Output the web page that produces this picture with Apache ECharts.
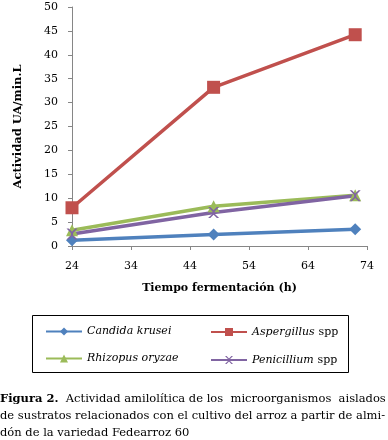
<!DOCTYPE html>
<html>
<head>
<meta charset="utf-8">
<script src="https://cdn.jsdelivr.net/npm/echarts@6/dist/echarts.min.js"></script>
<style>
  html, body { margin: 0; padding: 0; background: #fff; }
  #chart { width: 388px; height: 440px; }
</style>
</head>
<body>
<div id="chart"></div>
<script>
// horas de fermentación
const hours = [24, 48, 72]
const seriesNames = ['Candida krusei', 'Aspergillus spp', 'Rhizopus oryzae', 'Penicillium spp']
const candida = [1.2, 2.4, 3.5]
const aspergillus = [8.0, 33.2, 44.2]
const rhizopus = [3.3, 8.3, 10.6]
const penicillium = [2.5, 7.0, 10.5]
const colorList = ['#4F81BD', '#C0504D', '#9BBB59', '#8064A2']

const font = 'DejaVu Serif'
const crossPath = 'path://M0,0 L2,0 L5,3 L8,0 L10,0 L6,4 L6,6 L10,10 L8,10 L5,7 L2,10 L0,10 L4,6 L4,4 Z'

function mk(name, values, color, symbol, size) {
  return {
    name: name,
    type: 'line',
    data: hours.map((h, i) => [h, values[i]]),
    symbol: symbol,
    symbolSize: size,
    lineStyle: { color: color, width: 3.5 },
    itemStyle: { color: color },
  }
}

const chart = echarts.init(document.getElementById('chart'))
chart.setOption({
  animation: false,
  textStyle: { fontFamily: font },
  grid: { left: 72, right: 21, top: 7, bottom: 194 },
  xAxis: {
    type: 'value',
    min: 24,
    max: 74,
    interval: 10,
    name: 'Tiempo fermentación (h)',
    nameLocation: 'middle',
    nameGap: 37,
    nameTextStyle: { fontWeight: 'bold', fontSize: 11, color: '#000' },
    axisLine: { show: true, lineStyle: { color: '#868686', width: 1 } },
    axisTick: { show: true, length: 4, lineStyle: { color: '#868686' } },
    axisLabel: { color: '#000', fontSize: 11, margin: 15 },
    splitLine: { show: false },
  },
  yAxis: {
    type: 'value',
    min: 0,
    max: 50,
    interval: 5,
    name: 'Actividad UA/min.L',
    nameLocation: 'middle',
    nameGap: 48,
    nameTextStyle: { fontWeight: 'bold', fontSize: 11.5, color: '#000' },
    axisLine: { show: true, lineStyle: { color: '#868686', width: 1 } },
    axisTick: { show: true, length: 4, lineStyle: { color: '#868686' } },
    axisLabel: { color: '#000', fontSize: 11, margin: 14 },
    splitLine: { show: false },
  },
  legend: [
    {
      left: 40,
      top: 321,
      orient: 'vertical',
      itemGap: 16,
      itemWidth: 36,
      itemHeight: 10,
      data: [seriesNames[0], seriesNames[2]],
      formatter: (n) => `{i|${n}}`,
      textStyle: { rich: { i: { fontStyle: 'italic', fontSize: 11, fontFamily: font, color: '#000' } } },
    },
    {
      left: 205,
      top: 321,
      orient: 'vertical',
      itemGap: 16,
      itemWidth: 36,
      itemHeight: 10,
      data: [seriesNames[1], seriesNames[3]],
      formatter: (n) => {
        const p = n.split(' ')
        return `{i|${p[0]}} {n|${p[1]}}`
      },
      textStyle: {
        rich: {
          i: { fontStyle: 'italic', fontSize: 11, fontFamily: font, color: '#000' },
          n: { fontSize: 11, fontFamily: font, color: '#000' },
        },
      },
    },
  ],
  graphic: [
    {
      type: 'rect',
      shape: { x: 32.5, y: 315.5, width: 316, height: 57 },
      style: { fill: 'none', stroke: '#000', lineWidth: 1 },
      silent: true,
    },
    {
      type: 'text',
      left: 0,
      top: 391,
      style: {
        text: '{b|Figura 2.}  Actividad amilolítica de los  microorganismos  aislados\nde sustratos relacionados con el cultivo del arroz a partir de almi-\ndón de la variedad Fedearroz 60',
        font: '11.5px ' + font,
        fill: '#000',
        lineHeight: 17,
        rich: {
          b: { fontWeight: 'bold', fontSize: 11.5, fontFamily: font, fill: '#000' },
        },
      },
    },
  ],
  series: [
    mk(seriesNames[0], candida, colorList[0], 'diamond', 12),
    mk(seriesNames[1], aspergillus, colorList[1], 'rect', 13),
    mk(seriesNames[2], rhizopus, colorList[2], 'triangle', 12),
    mk(seriesNames[3], penicillium, colorList[3], crossPath, 11),
  ],
})
</script>
</body>
</html>
